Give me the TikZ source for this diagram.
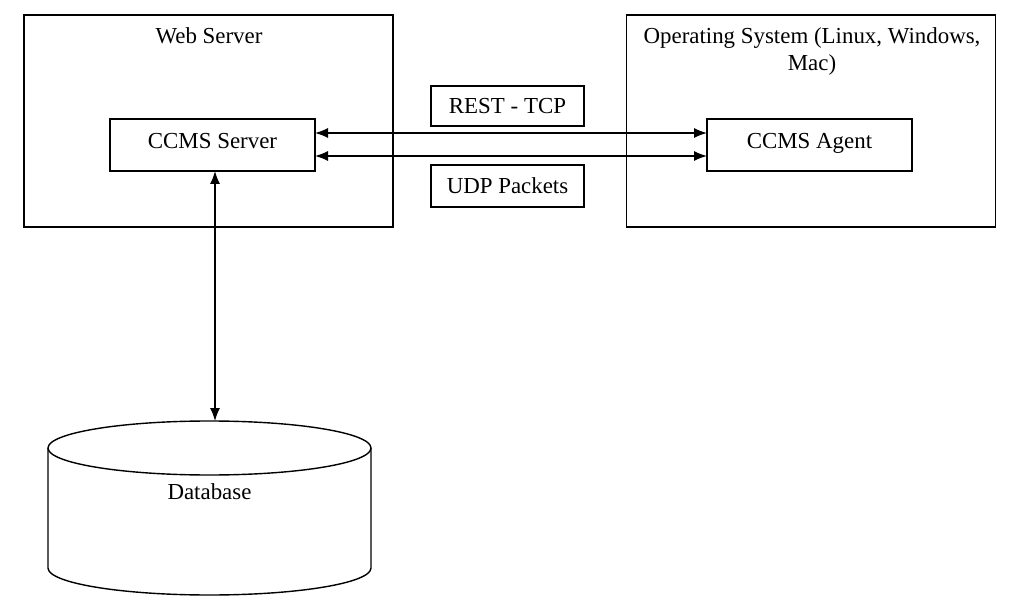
\documentclass[tikz,border=0pt]{standalone}
\usepackage{fontspec}
\setmainfont{Liberation Serif}
\usetikzlibrary{arrows.meta}
\begin{document}
\begin{tikzpicture}[x=1pt,y=-1pt,
  every node/.style={font=\fontsize{22.9}{27}\selectfont, inner sep=0pt, outer sep=0pt},
  container/.style={draw, line width=1.4pt, minimum width=369pt, minimum height=212pt},
  inbox/.style={draw, line width=1.4pt, minimum width=205pt, minimum height=52pt, text height=14pt, text depth=6pt},
  tagbox/.style={draw, line width=1.4pt, minimum width=153pt, text height=16pt, text depth=0pt},
  conn/.style={line width=1.4pt, {Latex[length=13pt,width=10pt]}-{Latex[length=13pt,width=10pt]}},
  lbl/.style={anchor=base, align=center}
]
\useasboundingbox (0,0) rectangle (1023,604);
\fill[white] (0,0) rectangle (1023,604);
% containers
\node[container] (web) at (208.5,121) {};
\node[container] (os) at (811,121) {};
\node[lbl] (webt) at (209,44) {Web Server};
\node[lbl] (ost) at (812,71) {Operating System (Linux, Windows,\\Mac)};
% inner boxes
\node[inbox] (srv) at (212.5,145) {CCMS Server};
\node[inbox] (agent) at (809.5,145) {CCMS Agent};
% tag boxes
\node[tagbox, minimum height=40pt] (rest) at (507.5,106) {REST - TCP};
\node[tagbox, minimum height=42pt] (udp) at (507.5,186) {UDP Packets};
% database cylinder
\draw[line width=1.4pt, fill=white] (48,448) -- (48,568) arc[start angle=180, end angle=360, x radius=161.5pt, y radius=27pt] -- (371,448);
\draw[line width=1.4pt] (209.5,448) ellipse[x radius=161.5pt, y radius=27pt];
\coordinate (dbtop) at (215,421);
\node[lbl] (db) at (209.5,499) {Database};
% connectors
\draw[conn] ([yshift=12pt]srv.east) -- ([yshift=12pt]agent.west);
\draw[conn] ([yshift=-11pt]srv.east) -- ([yshift=-11pt]agent.west);
\draw[conn] (srv.south -| dbtop) -- (dbtop);
\end{tikzpicture}
\end{document}
